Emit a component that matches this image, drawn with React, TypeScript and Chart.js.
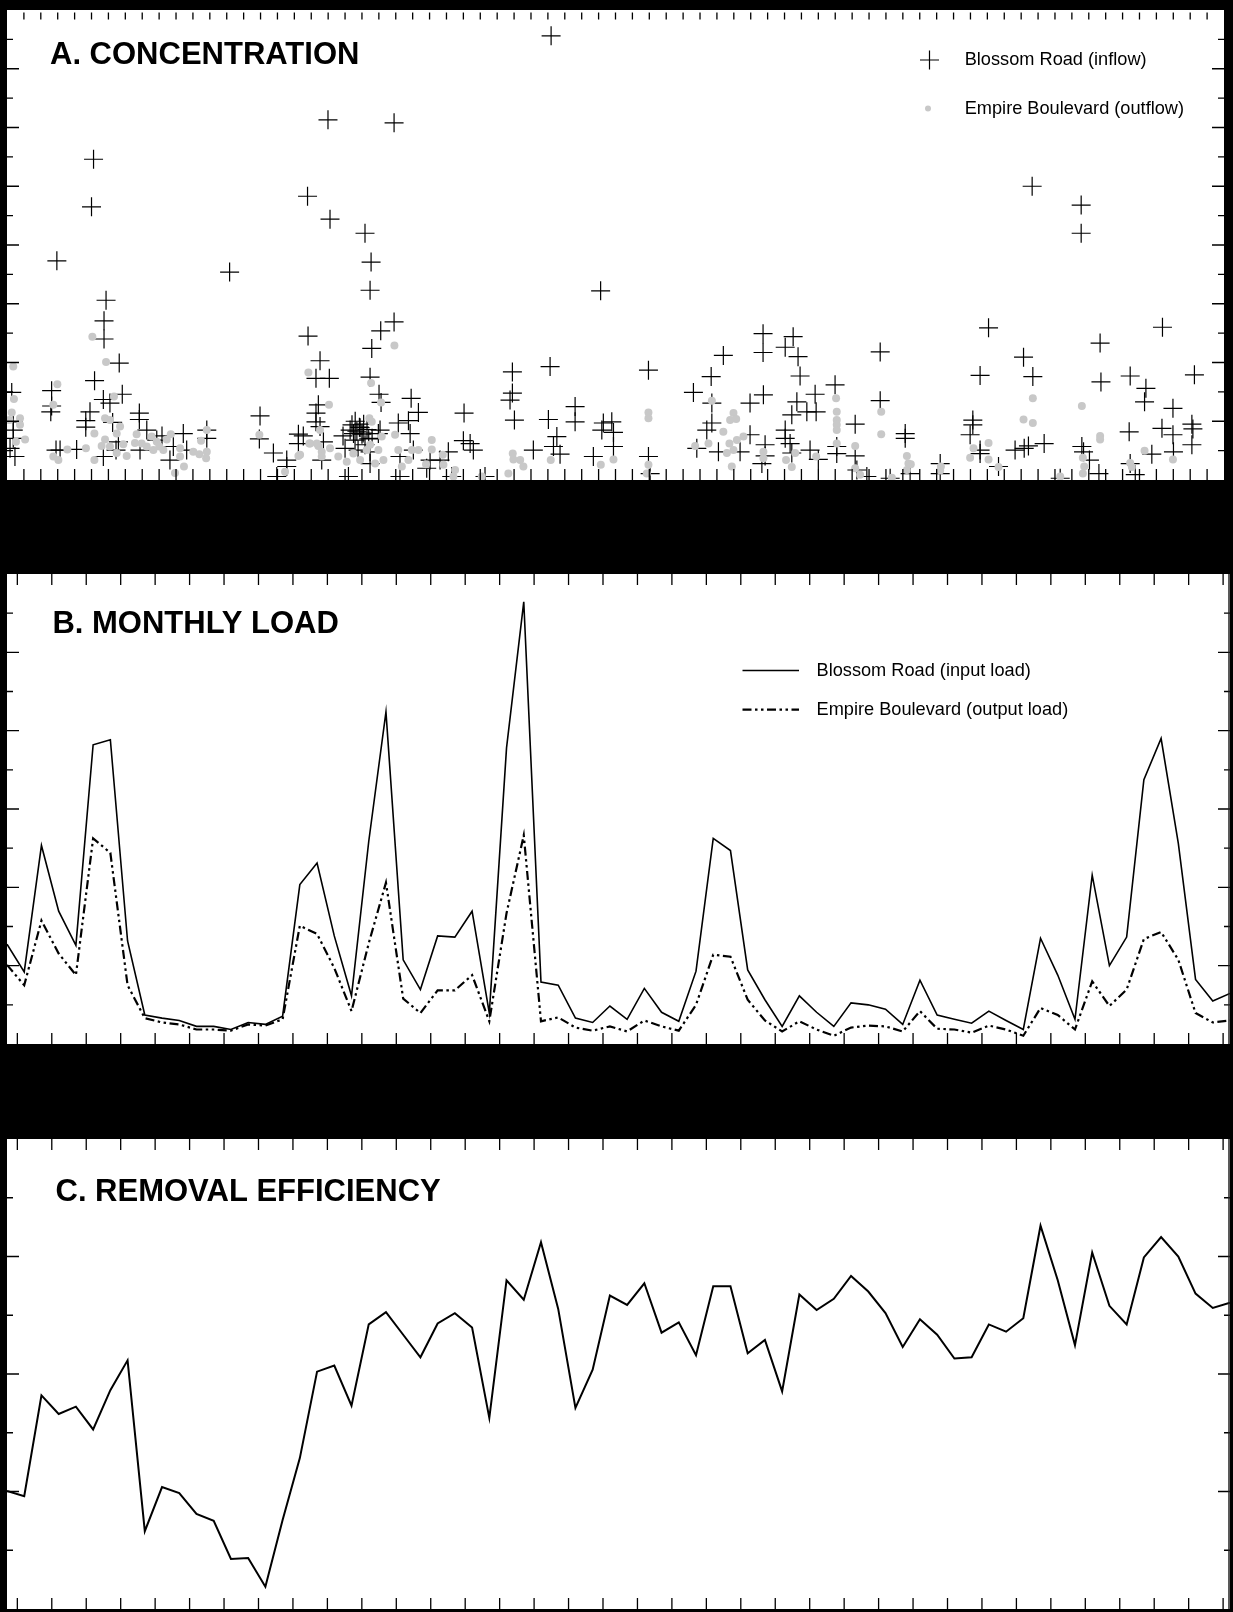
import React, { useEffect, useRef } from "react";
import { Chart, registerables } from "chart.js";

Chart.register(...registerables);

const FONT = "'Liberation Sans', Arial, Helvetica, sans-serif";

// ---------- Panel A: concentration samples [month, concentration] ----------
const inflowConc: [number, number][] = [
  [32.19, 0.756], [5.12, 0.546], [5.0, 0.465], [2.95, 0.373], [18.99, 0.613], [22.9, 0.608], [17.78, 0.483],
  [19.11, 0.444], [21.18, 0.42], [21.54, 0.371], [21.48, 0.323], [13.17, 0.354], [60.65, 0.5], [63.55, 0.468],
  [63.55, 0.42], [35.12, 0.322], [5.86, 0.306], [5.74, 0.271], [5.74, 0.24], [6.64, 0.199], [5.18, 0.169],
  [17.81, 0.245], [18.52, 0.203], [22.9, 0.269], [22.11, 0.254], [21.58, 0.224], [21.48, 0.175], [44.73, 0.249],
  [46.51, 0.244], [46.04, 0.226], [44.73, 0.217], [46.8, 0.21], [46.92, 0.177], [51.66, 0.218], [58.07, 0.259],
  [68.36, 0.26], [64.67, 0.233], [60.14, 0.209], [60.69, 0.176], [57.57, 0.178], [64.72, 0.167], [66.45, 0.177],
  [70.25, 0.179], [42.38, 0.212], [41.66, 0.176], [37.95, 0.187], [32.13, 0.193], [29.9, 0.184], [29.9, 0.148],
  [40.61, 0.149], [2.64, 0.152], [2.64, 0.126], [2.59, 0.116], [5.7, 0.137], [6.82, 0.146], [6.09, 0.131],
  [4.91, 0.116], [4.66, 0.101], [4.66, 0.09], [6.25, 0.098], [7.83, 0.114], [7.83, 0.103], [0.28, 0.149],
  [0.37, 0.099], [0.37, 0.085], [0.37, 0.071], [0.47, 0.04], [0.18, 0.054], [2.9, 0.051], [3.14, 0.051],
  [4.12, 0.052], [5.7, 0.04], [6.45, 0.051], [6.59, 0.065], [8.27, 0.085], [7.87, 0.051], [9.17, 0.075],
  [8.86, 0.068], [9.64, 0.034], [10.43, 0.079], [10.63, 0.051], [9.84, 0.057], [11.82, 0.085], [11.82, 0.071],
  [14.97, 0.109], [14.93, 0.07], [15.76, 0.046], [16.55, 0.034], [16.55, 0.023], [17.24, 0.078], [17.24, 0.062],
  [18.28, 0.173], [18.28, 0.114], [18.28, 0.099], [15.96, 0.006], [19.07, 0.173], [22.01, 0.146], [22.13, 0.132],
  [23.91, 0.139], [24.34, 0.115], [23.75, 0.101], [18.42, 0.128], [18.52, 0.091], [17.53, 0.075], [18.72, 0.065],
  [18.62, 0.034], [20.2, 0.006], [29.76, 0.136], [30.02, 0.102], [27.04, 0.114], [32.03, 0.103], [33.61, 0.125],
  [33.61, 0.099], [35.19, 0.085], [35.78, 0.099], [35.88, 0.057], [34.69, 0.04], [32.53, 0.074], [32.33, 0.057],
  [32.72, 0.044], [31.14, 0.051], [27.0, 0.067], [27.4, 0.062], [27.59, 0.051], [26.11, 0.048], [25.62, 0.034],
  [25.03, 0.034], [24.83, 0.02], [23.25, 0.04], [23.25, 0.006], [24.04, 0.051], [23.85, 0.079], [23.15, 0.097],
  [21.97, 0.079], [21.48, 0.028], [26.31, 0.006], [19.88, 0.075], [20.3, 0.085], [20.59, 0.068], [20.89, 0.089],
  [21.18, 0.06], [20.77, 0.051], [20.0, 0.054], [21.6, 0.071], [22.07, 0.085], [21.07, 0.08], [20.41, 0.094],
  [21.48, 0.048], [20.7, 0.083], [21.0, 0.078], [20.85, 0.09], [21.3, 0.086], [20.5, 0.079], [21.1, 0.095],
  [20.6, 0.1], [21.4, 0.07],
  [28.28, 0.006], [37.95, 0.04], [38.05, 0.011], [48.99, 0.162], [44.75, 0.145], [43.96, 0.131],
  [47.81, 0.146], [46.73, 0.133], [47.87, 0.116], [47.32, 0.116], [51.66, 0.135], [46.43, 0.111], [41.7, 0.131],
  [41.7, 0.097], [41.4, 0.085], [43.96, 0.077], [46.04, 0.085], [46.04, 0.071], [50.18, 0.095], [53.14, 0.079],
  [53.14, 0.071], [35.28, 0.097], [35.88, 0.081], [40.81, 0.054], [42.09, 0.048], [43.37, 0.048], [44.85, 0.06],
  [44.85, 0.041], [44.66, 0.028], [46.33, 0.062], [46.43, 0.046], [47.51, 0.051], [48.0, 0.035], [49.09, 0.057],
  [49.09, 0.045], [50.18, 0.041], [50.28, 0.017], [52.25, 0.003], [50.87, 0.006], [67.38, 0.156], [67.3, 0.133],
  [68.98, 0.122], [66.39, 0.082], [68.33, 0.088], [68.98, 0.077], [70.1, 0.095], [70.16, 0.087], [70.1, 0.06],
  [69.01, 0.048], [67.73, 0.044], [57.14, 0.102], [57.14, 0.094], [56.98, 0.077], [57.57, 0.051], [57.57, 0.045],
  [59.64, 0.051], [60.18, 0.054], [60.43, 0.058], [61.36, 0.062], [63.59, 0.057], [63.69, 0.048], [64.04, 0.034],
  [58.66, 0.023], [55.21, 0.028], [55.21, 0.011], [53.43, 0.011], [64.6, 0.011], [66.45, 0.028], [66.75, 0.009],
  [62.31, 0.003],
];

const outflowConc: [number, number][] = [
  [0.37, 0.193], [0.41, 0.138], [0.28, 0.115], [0.14, 0.102], [0.77, 0.105], [0.77, 0.094], [0.53, 0.065],
  [1.07, 0.069], [2.98, 0.163], [2.74, 0.128], [2.74, 0.04], [3.04, 0.034], [5.05, 0.244], [5.86, 0.201],
  [6.33, 0.142], [5.8, 0.105], [6.09, 0.102], [6.69, 0.091], [5.17, 0.079], [6.49, 0.079], [5.8, 0.069],
  [5.6, 0.058], [6.09, 0.057], [6.88, 0.061], [6.49, 0.046], [7.08, 0.041], [5.17, 0.034], [4.67, 0.054],
  [3.57, 0.052], [7.67, 0.078], [7.97, 0.062], [7.57, 0.063], [8.27, 0.057], [8.56, 0.074], [8.86, 0.065],
  [8.66, 0.051], [9.01, 0.057], [9.25, 0.051], [9.45, 0.069], [9.69, 0.078], [10.24, 0.054], [10.24, 0.04],
  [10.47, 0.023], [9.94, 0.012], [11.02, 0.048], [11.38, 0.044], [11.48, 0.067], [11.82, 0.085], [11.82, 0.048],
  [11.78, 0.037], [14.93, 0.077], [16.45, 0.014], [17.24, 0.041], [17.83, 0.183], [17.93, 0.062], [18.42, 0.058],
  [19.05, 0.128], [21.54, 0.165], [22.92, 0.229], [22.13, 0.132], [21.44, 0.105], [21.58, 0.099], [18.52, 0.085],
  [17.89, 0.062], [18.33, 0.062], [18.62, 0.048], [18.62, 0.04], [19.11, 0.054], [19.6, 0.04], [20.1, 0.031],
  [20.49, 0.045], [20.89, 0.034], [21.28, 0.051], [21.48, 0.06], [21.97, 0.051], [22.17, 0.074], [22.27, 0.034],
  [21.78, 0.028], [22.96, 0.077], [23.15, 0.051], [23.75, 0.034], [23.95, 0.051], [24.34, 0.051], [25.13, 0.068],
  [25.13, 0.052], [24.79, 0.027], [25.78, 0.043], [25.82, 0.026], [26.51, 0.017], [28.09, 0.006], [26.41, 0.006],
  [23.36, 0.023], [29.66, 0.011], [29.92, 0.045], [29.96, 0.035], [30.36, 0.034], [30.55, 0.023], [32.17, 0.034],
  [35.13, 0.026], [35.88, 0.035], [17.34, 0.043], [37.95, 0.115], [37.95, 0.105], [37.95, 0.026], [37.85, 0.011],
  [41.7, 0.135], [42.98, 0.114], [42.78, 0.102], [43.14, 0.104], [42.38, 0.082], [41.5, 0.062], [40.71, 0.058],
  [42.74, 0.062], [43.18, 0.068], [43.57, 0.074], [42.98, 0.051], [42.59, 0.046], [42.88, 0.023], [44.75, 0.048],
  [44.75, 0.037], [46.09, 0.034], [46.63, 0.046], [46.43, 0.022], [47.87, 0.04], [49.05, 0.139], [49.09, 0.116],
  [49.09, 0.102], [49.09, 0.094], [49.09, 0.085], [49.09, 0.062], [50.18, 0.058], [50.18, 0.02], [50.47, 0.009],
  [51.72, 0.116], [51.72, 0.078], [53.24, 0.041], [53.33, 0.028], [53.24, 0.017], [52.35, 0.004], [60.69, 0.139],
  [60.14, 0.103], [60.69, 0.097], [63.59, 0.126], [64.67, 0.075], [64.67, 0.069], [58.07, 0.063], [57.18, 0.054],
  [56.98, 0.038], [58.07, 0.035], [58.66, 0.022], [53.47, 0.027], [55.25, 0.023], [55.21, 0.016], [63.65, 0.038],
  [63.73, 0.023], [63.65, 0.011], [62.31, 0.006], [66.45, 0.029], [66.55, 0.022], [67.3, 0.05], [68.98, 0.035],
];

// ---------- Panel B: monthly loads (72 months) ----------
const inputLoad = [
  255, 184, 507, 339, 252, 764, 777, 263, 74, 66, 60, 45, 45, 37, 55, 50, 71, 407, 462, 276, 123, 517, 848, 215,
  139, 276, 273, 339, 79, 756, 1129, 158, 150, 66, 55, 97, 63, 142, 81, 58, 186, 525, 494, 189, 113, 45, 123, 81,
  45, 105, 100, 89, 50, 163, 74, 63, 53, 84, 60, 37, 270, 176, 63, 431, 200, 273, 675, 780, 512, 165, 110, 129,
];
const outputLoad = [
  202, 150, 315, 231, 176, 525, 488, 150, 66, 55, 50, 37, 37, 34, 50, 47, 63, 302, 281, 194, 84, 257, 412, 116,
  79, 137, 137, 176, 58, 334, 533, 58, 68, 42, 34, 45, 32, 60, 45, 34, 100, 228, 223, 113, 60, 32, 58, 37,
  21, 42, 47, 45, 32, 84, 39, 37, 29, 47, 37, 21, 92, 74, 37, 160, 97, 139, 268, 286, 215, 79, 55, 60,
];

// ---------- Panel C: removal efficiency (%) ----------
const removalEfficiency = [
  -49.8, -52, -9.1, -17, -13.9, -23.6, -6.9, 5.8, -66.9, -48.1, -50.7, -59.5, -62.5, -78.7, -78.3, -90.5, -62.1,
  -35.8, 1.0, 3.6, -13.5, 21.1, 26.3, 16.7, 7.1, 21.5, 25.9, 19.8, -18.7, 39.9, 31.6, 56.1, 27.7, -14.4, 1.8,
  33.4, 29.4, 38.6, 17.6, 22, 8, 37.3, 37.3, 8.8, 14.5, -7.4, 33.8, 27.2, 32, 41.7, 35.1, 25.9, 11.5, 23.3, 16.7,
  6.6, 7.1, 21.1, 18, 23.7, 63.1, 39.9, 12.3, 51.7, 29, 21.1, 49.6, 58.3, 50, 34.2, 28.1, 30.3,
];

// ---------- Axis ticks (labels are not shown) ----------
const concYTicks = [0, 0.05, 0.1, 0.15, 0.2, 0.25, 0.3, 0.35, 0.4, 0.45, 0.5, 0.55, 0.6, 0.65, 0.7, 0.75, 0.8];
const loadYTicks = [0, 100, 200, 300, 400, 500, 600, 700, 800, 900, 1000, 1100, 1200];
const effYTicks = [-100, -75, -50, -25, 0, 25, 50, 75, 100];
const concXTicks = Array.from({ length: 73 }, (_, i) => i);
const monthXTicks = Array.from({ length: 71 }, (_, i) => i + 0.6);

const titles = ["A. CONCENTRATION", "B. MONTHLY LOAD", "C. REMOVAL EFFICIENCY"];
const legendA = ["Blossom Road (inflow)", "Empire Boulevard (outflow)"];
const legendB = ["Blossom Road (input load)", "Empire Boulevard (output load)"];

const DASHDOT = [9, 3.5, 2.5, 3.5, 2.5, 3.5];

type LegendItem = { kind: "cross" | "dot" | "solid" | "dashdot"; label: string; mx: number; my: number; tx: number };
type DecorOpts = {
  title: string;
  titleX: number;
  titleY: number;
  legend: LegendItem[];
  xTickLen: number;
  topTickStart: number;
  topTickLen: number;
  rightBorder: boolean;
};

const decorPlugin = {
  id: "decor",
  afterDatasetsDraw(chart: any, _args: any, o: DecorOpts) {
    const ctx: CanvasRenderingContext2D = chart.ctx;
    const { left, right, top, bottom } = chart.chartArea;
    const xs = chart.scales.x;
    const ys = chart.scales.y;
    ctx.save();
    ctx.setLineDash([]);
    ctx.strokeStyle = "#000";
    ctx.lineWidth = 1.3;
    ctx.beginPath();
    for (const t of xs.ticks) {
      if (t.value <= xs.min || t.value >= xs.max) continue;
      const px = xs.getPixelForValue(t.value);
      ctx.moveTo(px, bottom);
      ctx.lineTo(px, bottom - o.xTickLen);
      ctx.moveTo(px, top + o.topTickStart);
      ctx.lineTo(px, top + o.topTickStart + o.topTickLen);
    }
    ys.ticks.forEach((t: any, i: number) => {
      if (t.value <= ys.min || t.value >= ys.max) return;
      const py = ys.getPixelForValue(t.value);
      const len = i % 2 === 0 ? 12 : 6;
      ctx.moveTo(left, py);
      ctx.lineTo(left + len, py);
      ctx.moveTo(right, py);
      ctx.lineTo(right - len, py);
    });
    ctx.stroke();
    if (o.rightBorder) {
      ctx.beginPath();
      ctx.lineWidth = 1.5;
      ctx.strokeStyle = "#222";
      ctx.moveTo(right - 1, top);
      ctx.lineTo(right - 1, bottom);
      ctx.stroke();
    }
    // title
    ctx.fillStyle = "#000";
    ctx.font = `bold 31px ${FONT}`;
    ctx.textBaseline = "alphabetic";
    ctx.textAlign = "left";
    ctx.fillText(o.title, left + o.titleX, top + o.titleY);
    // legend
    ctx.font = `18.2px ${FONT}`;
    ctx.textBaseline = "middle";
    for (const it of o.legend) {
      const mx = left + it.mx;
      const my = top + it.my;
      ctx.setLineDash([]);
      if (it.kind === "cross") {
        ctx.strokeStyle = "#000";
        ctx.lineWidth = 1.2;
        ctx.beginPath();
        ctx.moveTo(mx - 9.5, my);
        ctx.lineTo(mx + 9.5, my);
        ctx.moveTo(mx, my - 9.5);
        ctx.lineTo(mx, my + 9.5);
        ctx.stroke();
      } else if (it.kind === "dot") {
        ctx.fillStyle = "#c8c8c8";
        ctx.beginPath();
        ctx.arc(mx, my, 3, 0, Math.PI * 2);
        ctx.fill();
      } else {
        ctx.strokeStyle = "#000";
        ctx.lineWidth = it.kind === "solid" ? 1.6 : 2.2;
        if (it.kind === "dashdot") ctx.setLineDash(DASHDOT);
        ctx.beginPath();
        ctx.moveTo(mx, my);
        ctx.lineTo(mx + 56.5, my);
        ctx.stroke();
        ctx.setLineDash([]);
      }
      ctx.fillStyle = "#000";
      ctx.fillText(it.label, left + it.tx, my);
    }
    ctx.restore();
  },
};

function setTicks(values: number[]) {
  return (scale: any) => {
    scale.ticks = values.map((v) => ({ value: v }));
  };
}

function baseScales(xMin: number, xMax: number, xTicks: number[], yMin: number, yMax: number, yTicks: number[]) {
  return {
    x: { type: "linear", display: false, min: xMin, max: xMax, afterBuildTicks: setTicks(xTicks) },
    y: { type: "linear", display: false, min: yMin, max: yMax, afterBuildTicks: setTicks(yTicks) },
  };
}

const LAYOUT = { padding: 0, autoPadding: false };

function configA(): any {
  return {
    type: "scatter",
    data: {
      datasets: [
        {
          label: legendA[1],
          data: outflowConc.map(([m, c]) => ({ x: m, y: c })),
          pointStyle: "circle",
          pointRadius: 4,
          backgroundColor: "#c8c8c8",
          borderWidth: 0,
          order: 1,
        },
        {
          label: legendA[0],
          data: inflowConc.map(([m, c]) => ({ x: m, y: c })),
          pointStyle: "cross",
          pointRadius: 9.5,
          borderColor: "#000",
          borderWidth: 1.2,
          order: 2,
        },
      ],
    },
    options: {
      responsive: false,
      animation: false,
      events: [],
      layout: LAYOUT,
      scales: baseScales(0, 72, concXTicks, 0, 0.8, concYTicks),
      plugins: {
        legend: { display: false },
        tooltip: { enabled: false },
        decor: {
          title: titles[0],
          titleX: 43,
          titleY: 54.3,
          xTickLen: 11,
          topTickStart: 2.5,
          topTickLen: 7,
          rightBorder: false,
          legend: [
            { kind: "cross", label: legendA[0], mx: 922.5, my: 50, tx: 957.7 },
            { kind: "dot", label: legendA[1], mx: 921, my: 98.5, tx: 957.7 },
          ],
        },
      },
    },
    plugins: [decorPlugin],
  };
}

function configB(): any {
  return {
    type: "line",
    data: {
      datasets: [
        {
          label: legendB[0],
          data: inputLoad.map((v, i) => ({ x: i, y: v })),
          borderColor: "#000",
          borderWidth: 1.6,
          pointRadius: 0,
          tension: 0,
          fill: false,
        },
        {
          label: legendB[1],
          data: outputLoad.map((v, i) => ({ x: i, y: v })),
          borderColor: "#000",
          borderWidth: 2.2,
          borderDash: DASHDOT,
          pointRadius: 0,
          tension: 0,
          fill: false,
        },
      ],
    },
    options: {
      responsive: false,
      animation: false,
      events: [],
      layout: LAYOUT,
      scales: baseScales(0, 71, monthXTicks, 0, 1200, loadYTicks),
      plugins: {
        legend: { display: false },
        tooltip: { enabled: false },
        decor: {
          title: titles[1],
          titleX: 45.4,
          titleY: 58.6,
          xTickLen: 11,
          topTickStart: 0,
          topTickLen: 11,
          rightBorder: true,
          legend: [
            { kind: "solid", label: legendB[0], mx: 735.5, my: 96.5, tx: 809.5 },
            { kind: "dashdot", label: legendB[1], mx: 735.5, my: 135.6, tx: 809.5 },
          ],
        },
      },
    },
    plugins: [decorPlugin],
  };
}

function configC(): any {
  return {
    type: "line",
    data: {
      datasets: [
        {
          label: "Removal efficiency",
          data: removalEfficiency.map((v, i) => ({ x: i, y: v })),
          borderColor: "#000",
          borderWidth: 2,
          pointRadius: 0,
          tension: 0,
          fill: false,
        },
      ],
    },
    options: {
      responsive: false,
      animation: false,
      events: [],
      layout: LAYOUT,
      scales: baseScales(0, 71, monthXTicks, -100, 100, effYTicks),
      plugins: {
        legend: { display: false },
        tooltip: { enabled: false },
        decor: {
          title: titles[2],
          titleX: 48.5,
          titleY: 62,
          xTickLen: 11,
          topTickStart: 0,
          topTickLen: 11,
          rightBorder: true,
          legend: [],
        },
      },
    },
    plugins: [decorPlugin],
  };
}

function Panel(props: { make: () => any; left: number; top: number; width: number; height: number }) {
  const ref = useRef<HTMLCanvasElement | null>(null);
  useEffect(() => {
    if (!ref.current) return;
    const chart = new Chart(ref.current, props.make());
    return () => chart.destroy();
  }, []);
  return (
    <canvas
      ref={ref}
      width={props.width}
      height={props.height}
      style={{
        position: "absolute",
        left: props.left,
        top: props.top,
        width: props.width,
        height: props.height,
        background: "#fff",
        display: "block",
      }}
    />
  );
}

export default function App() {
  useEffect(() => {
    document.body.style.margin = "0";
    document.body.style.background = "#000";
  }, []);
  return (
    <div
      style={{
        position: "absolute",
        left: 0,
        top: 0,
        width: 1233,
        height: 1612,
        background: "#000",
        overflow: "hidden",
      }}
    >
      <Panel make={configA} left={7} top={10} width={1217} height={470} />
      <Panel make={configB} left={7} top={574} width={1223} height={470} />
      <Panel make={configC} left={7} top={1139} width={1223} height={470} />
    </div>
  );
}
